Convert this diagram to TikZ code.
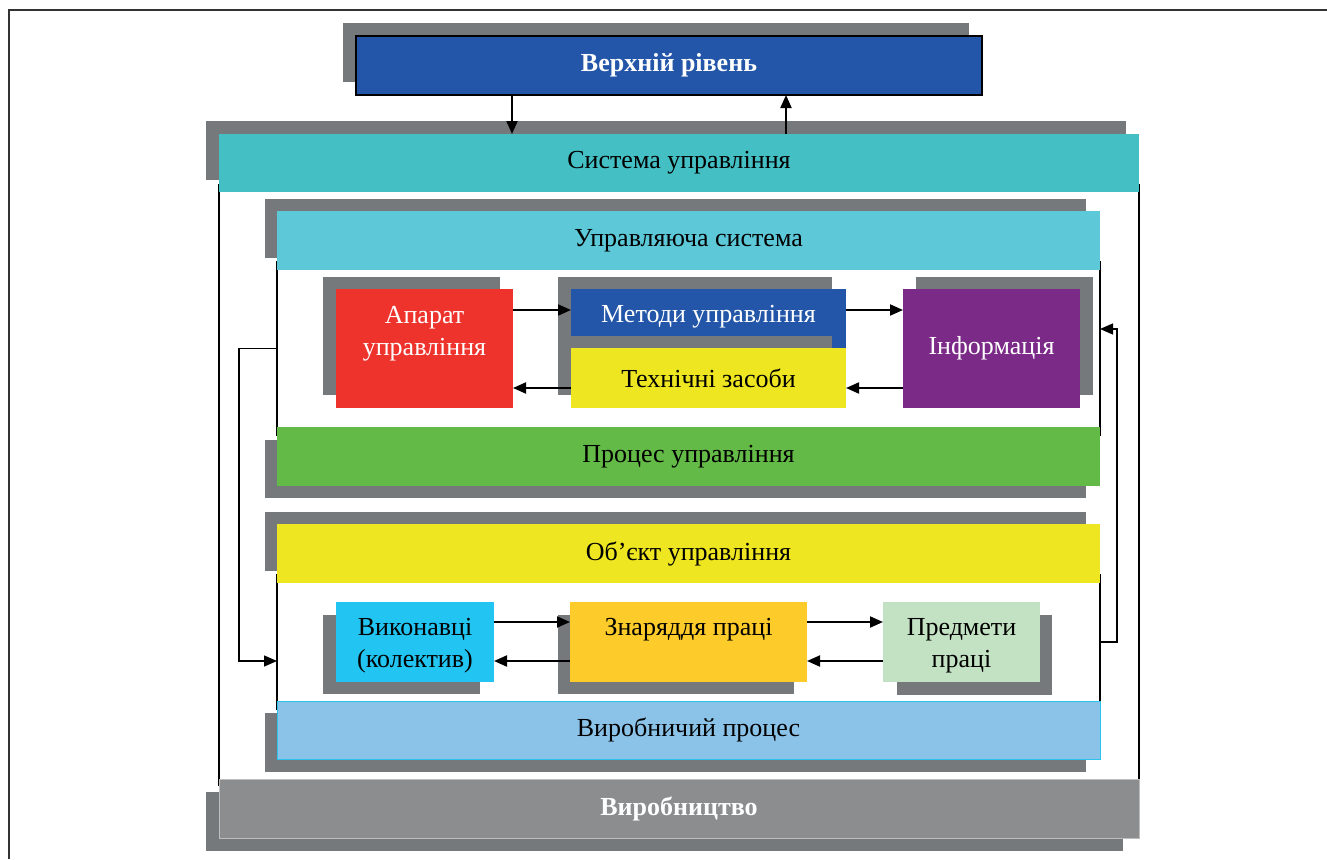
\documentclass[tikz,border=0pt]{standalone}
\usepackage{fontspec}
\setmainfont{Liberation Serif}
\usetikzlibrary{arrows.meta,calc}
\definecolor{shadowc}{HTML}{76797C}
\definecolor{framec}{HTML}{333333}
\definecolor{verkhc}{HTML}{2356A8}
\definecolor{sysc}{HTML}{44BFC4}
\definecolor{ctrlc}{HTML}{5DC8D8}
\definecolor{redc}{HTML}{EE332D}
\definecolor{yellowc}{HTML}{EEE621}
\definecolor{purplec}{HTML}{7B2A88}
\definecolor{greenc}{HTML}{63BA46}
\definecolor{vykonc}{HTML}{22C4F2}
\definecolor{znarc}{HTML}{FDCB2A}
\definecolor{predmc}{HTML}{C3E2C3}
\definecolor{vyrprc}{HTML}{8BC3E8}
\definecolor{vyrprb}{HTML}{29C3EE}
\definecolor{vyrobc}{HTML}{8C8D8F}
\definecolor{vyrobb}{HTML}{BDBDBD}
\begin{document}
\begin{tikzpicture}[x=1pt,y=-1pt,
  bx/.style n args={2}{anchor=north west,inner sep=0pt,outer sep=0pt,minimum width=#1pt,minimum height=#2pt,align=center},
  txt/.style={font=\fontsize{26}{32}\selectfont},
  btxt/.style={font=\fontsize{26}{32}\selectfont\bfseries},
  shd/.style={fill=shadowc},
  frm/.style={draw=black,line width=1.2pt,fill=white},
  arr/.style={line width=1.9pt,-{Triangle[length=13pt,width=11pt]}},
  fbarr/.style={line width=1.4pt,-{Triangle[length=13pt,width=11pt]}},
]
\useasboundingbox (0,0) rectangle (1327,859);
\fill[white] (0,0) rectangle (1327,859);
\draw[line width=2pt,framec] (9,859) -- (9,10) -- (1327,10);

% top level
\fill[shd] (343,23) rectangle (969,82);
\node[bx={626}{59},fill=verkhc,draw=black,line width=1.5pt,btxt,text=white] (verkh) at (356,36) {Верхній рівень};

% system frame
\fill[shd] (206,121) rectangle (1126,180);
\node[bx={920}{600},frm] (sysframe) at (219,185) {};
\node[bx={920}{58},fill=sysc,txt] (sys) at (219,134) {Система управління};

% production
\fill[shd] (206,792) rectangle (1123,851);
\node[bx={920}{59},fill=vyrobc,draw=vyrobb,line width=1pt,btxt,text=white] (vyrob) at (219,779) {Виробництво};

% control system
\fill[shd] (265,199) rectangle (1086,258);
\node[bx={823}{173},frm] (ctrlframe) at (277,262) {};
\node[bx={823}{59},fill=ctrlc,txt] (ctrl) at (277,211) {Управляюча система};

\fill[shd] (265,440) rectangle (1086,498);
\node[bx={823}{59},fill=greenc,txt] (proc) at (277,427) {Процес управління};

% object
\fill[shd] (265,512) rectangle (1086,571);
\node[bx={823}{134},frm] (objframe) at (277,575) {};
\node[bx={823}{59},fill=yellowc,txt] (obj) at (277,524) {Об’єкт управління};

\fill[shd] (265,713) rectangle (1086,772);
\node[bx={823}{58},fill=vyrprc,draw=vyrprb,line width=1pt,txt] (vyrpr) at (277,701) {Виробничий процес};

% upper row
\fill[shd] (323,277) rectangle (500,395);
\node[bx={177}{119},fill=redc,label={[txt,text=white,align=center,yshift=15pt]center:Апарат\\управління}] (apparat) at (336,289) {};

\fill[shd] (558,277) rectangle (832,336);
\node[bx={275}{59},fill=verkhc,label={[txt,text=white,yshift=2pt]center:Методи управління}] (methods) at (571,289) {};

\fill[shd] (558,336) rectangle (832,395);
\node[bx={275}{60},fill=yellowc,txt] (tech) at (571,348) {Технічні засоби};

\fill[shd] (916,277) rectangle (1093,395);
\node[bx={177}{119},fill=purplec,txt,text=white] (info) at (903,289) {Інформація};

% lower row
\fill[shd] (323,615) rectangle (480,694);
\node[bx={158}{80},fill=vykonc,label={[txt,align=center,yshift=-4pt]center:Виконавці\\(колектив)}] (vykon) at (336,602) {};

\fill[shd] (558,615) rectangle (794,694);
\node[bx={237}{80},fill=znarc,label={[txt,yshift=12pt]center:Знаряддя праці}] (znar) at (570,602) {};

\fill[shd] (897,615) rectangle (1052,695);
\node[bx={157}{80},fill=predmc,label={[txt,align=center,yshift=-4pt]center:Предмети\\праці}] (predm) at (883,602) {};

% arrows top
\draw[arr] ([xshift=156pt]verkh.south west) -- ([xshift=156pt]verkh.south west |- sys.north);
\draw[arr] ([xshift=-196pt]verkh.south east |- sys.north) -- ([xshift=-196pt]verkh.south east);

% arrows upper row
\draw[arr] ([yshift=-21pt]apparat.north east) -- ([yshift=-21pt]apparat.north east -| methods.west);
\draw[arr] ([yshift=-21pt]methods.north east) -- ([yshift=-21pt]methods.north east -| info.west);
\draw[arr] ([yshift=20pt]info.south west) -- ([yshift=20pt]info.south west -| tech.east);
\draw[arr] ([yshift=20pt]tech.south west) -- ([yshift=20pt]tech.south west -| apparat.east);

% arrows lower row
\draw[arr] ([yshift=-20pt]vykon.north east) -- ([yshift=-20pt]vykon.north east -| znar.west);
\draw[arr] ([yshift=21pt]znar.south west) -- ([yshift=21pt]znar.south west -| vykon.east);
\draw[arr] ([yshift=-20pt]znar.north east) -- ([yshift=-20pt]znar.north east -| predm.west);
\draw[arr] ([yshift=21pt]predm.south west) -- ([yshift=21pt]predm.south west -| znar.east);

% feedback
\draw[fbarr] (ctrlframe.west) -- ++(-38,0) |- ([yshift=-19pt]objframe.west);
\draw[fbarr] (objframe.east) -- ++(17,0) |- ([yshift=19.5pt]ctrlframe.east);
\end{tikzpicture}
\end{document}
